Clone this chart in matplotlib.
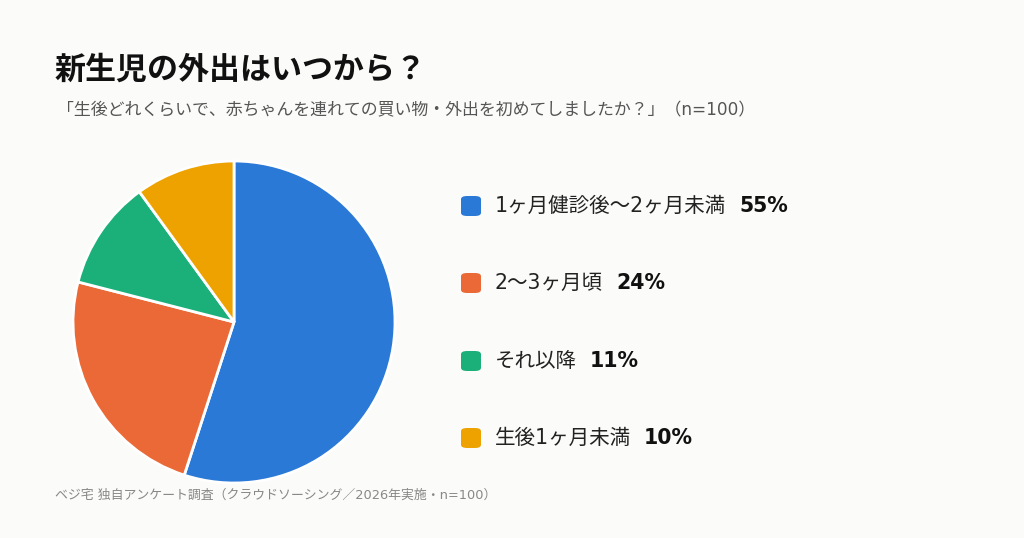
import matplotlib
matplotlib.use("Agg")
import matplotlib.pyplot as plt
from matplotlib.patches import FancyBboxPatch

plt.rcParams['font.family'] = ['DejaVu Sans', 'Noto Sans CJK JP']

labels = ['1ヶ月健診後〜2ヶ月未満', '2〜3ヶ月頃', 'それ以降', '生後1ヶ月未満']
values = [55, 24, 11, 10]
colors = ['#2a79d6', '#eb6936', '#1bb07a', '#eda200']

title = '新生児の外出はいつから？'
subtitle = '「生後どれくらいで、赤ちゃんを連れての買い物・外出を初めてしましたか？」（n=100）'
footer = 'ベジ宅 独自アンケート調査（クラウドソーシング／2026年実施・n=100）'

W, H = 1024, 538
bg = '#fbfbf9'
fig = plt.figure(figsize=(W / 100, H / 100), dpi=100, facecolor=bg)

# pie: centre (234, 322) px, radius 161 px
cx, cy, r = 234, 322, 161
ax = fig.add_axes([(cx - r) / W, (H - cy - r) / H, 2 * r / W, 2 * r / H])
ax.pie(values, colors=colors, startangle=90, counterclock=False, radius=1,
       wedgeprops=dict(edgecolor='white', linewidth=2))
ax.set_xlim(-1, 1)
ax.set_ylim(-1, 1)
ax.set_aspect('auto')
ax.axis('off')

fig.text(55 / W, 1 - 70 / H, title, fontsize=22.3, fontweight='bold',
         family=['Noto Sans CJK JP', 'DejaVu Sans'], va='center', color='#111111')
fig.text(57 / W, 1 - 110 / H, subtitle, fontsize=12.2, va='center', color='#555555')
fig.text(55 / W, 1 - 495 / H, footer, fontsize=9.3, va='center', color='#888888')

# legend
renderer = fig.canvas.get_renderer()
ys = [206, 283, 361, 438]
for lab, v, c, y in zip(labels, values, colors, ys):
    sq = 20
    box = FancyBboxPatch(((461) / W, (H - y - sq / 2) / H), sq / W, sq / H,
                         boxstyle='round,pad=0,rounding_size=0.006',
                         transform=fig.transFigure, facecolor=c, edgecolor='none')
    fig.patches.append(box)
    t = fig.text(495 / W, 1 - y / H, lab, fontsize=14.8, va='center', color='#222222')
    bb = t.get_window_extent(renderer)
    fig.text((bb.x1 + 13) / W, 1 - y / H, f'{v}%', fontsize=14.8, fontweight='bold',
             va='center', color='#111111')

fig.savefig('out.png', dpi=100, facecolor=bg)
